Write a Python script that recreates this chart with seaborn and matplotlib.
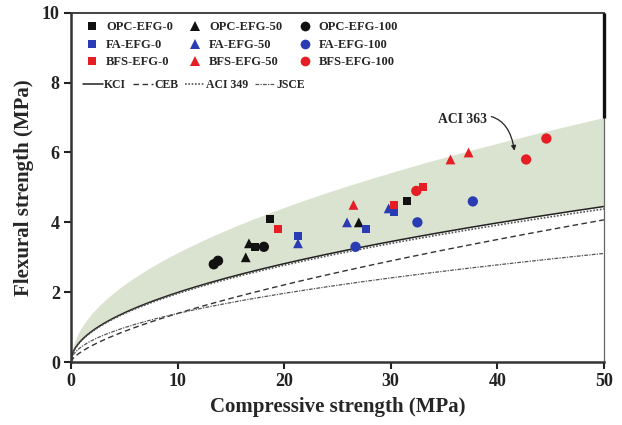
import numpy as np
import pandas as pd
import matplotlib
matplotlib.use("Agg")
import matplotlib.pyplot as plt
from matplotlib.lines import Line2D
import seaborn as sns

# Measured compressive / flexural strengths (MPa), three specimens per mix
series_names = ["OPC-EFG-0", "OPC-EFG-50", "OPC-EFG-100",
                "FA-EFG-0", "FA-EFG-50", "FA-EFG-100",
                "BFS-EFG-0", "BFS-EFG-50", "BFS-EFG-100"]
opc_efg0_fc = [17.3, 18.7, 31.5]
opc_efg0_fr = [3.3, 4.1, 4.6]
opc_efg50_fc = [16.4, 16.7, 27.0]
opc_efg50_fr = [3.0, 3.4, 4.0]
opc_efg100_fc = [13.4, 13.8, 18.1]
opc_efg100_fr = [2.8, 2.9, 3.3]
fa_efg0_fc = [21.3, 27.7, 30.3]
fa_efg0_fr = [3.6, 3.8, 4.3]
fa_efg50_fc = [21.3, 25.9, 29.8]
fa_efg50_fr = [3.4, 4.0, 4.4]
fa_efg100_fc = [26.7, 32.5, 37.7]
fa_efg100_fr = [3.3, 4.0, 4.6]
bfs_efg0_fc = [19.4, 30.3, 33.0]
bfs_efg0_fr = [3.8, 4.5, 5.0]
bfs_efg50_fc = [26.5, 35.6, 37.3]
bfs_efg50_fr = [4.5, 5.8, 6.0]
bfs_efg100_fc = [32.4, 42.7, 44.6]
bfs_efg100_fr = [4.9, 5.8, 6.4]

# Design-code prediction curves: fr = a * fc^n
code_names = ["KCI", "CEB", "ACI 349", "JSCE"]
code_coef = [0.63, 0.30, 0.62, 0.44]
code_expo = [0.5, 2 / 3, 0.5, 0.5]
aci363_coef = 0.99

fc_list = [opc_efg0_fc, opc_efg50_fc, opc_efg100_fc,
           fa_efg0_fc, fa_efg50_fc, fa_efg100_fc,
           bfs_efg0_fc, bfs_efg50_fc, bfs_efg100_fc]
fr_list = [opc_efg0_fr, opc_efg50_fr, opc_efg100_fr,
           fa_efg0_fr, fa_efg50_fr, fa_efg100_fr,
           bfs_efg0_fr, bfs_efg50_fr, bfs_efg100_fr]

rows = []
for name, fcs, frs in zip(series_names, fc_list, fr_list):
    for a, b in zip(fcs, frs):
        rows.append({"mix": name, "fc": a, "fr": b})
df = pd.DataFrame(rows)

sns.set_style("ticks")
plt.rcParams["font.family"] = ["Liberation Serif", "DejaVu Serif"]
plt.rcParams["font.weight"] = "bold"

black, blue, red = "#111111", "#2a3cb4", "#e41e24"
colors = {"OPC": black, "FA": blue, "BFS": red}
markers = {"0": "s", "50": "^", "100": "o"}
sizes = {"0": 32, "50": 50, "100": 55}

fig = plt.figure(figsize=(6.22, 4.25), dpi=100)
ax = fig.add_axes([0.114, 0.148, 0.857, 0.822])

fc = np.linspace(0, 50, 400)
kci = code_coef[0] * fc ** code_expo[0]
aci363 = aci363_coef * np.sqrt(fc)
ax.fill_between(fc, kci, aci363, color="#dae3cf", lw=0, zorder=1)

styles = ["-", (0, (4, 2.5)), (0, (1, 1)), (0, (3, 1, 1, 1))]
lcolors = ["#222222", "#333333", "#555555", "#555555"]
lwidths = [1.1, 1.0, 1.2, 0.9]
for a, n, ls, c, w in zip(code_coef, code_expo, styles, lcolors, lwidths):
    ax.plot(fc, a * fc ** n, ls=ls, color=c, lw=w, zorder=2)

handles = []
for name in series_names:
    binder, _, pct = name.split("-")
    sub = df[df["mix"] == name]
    sns.scatterplot(data=sub, x="fc", y="fr", ax=ax, color=colors[binder],
                    marker=markers[pct], s=sizes[pct], edgecolor="none",
                    linewidth=0, zorder=3, legend=False)
    handles.append(Line2D([], [], ls="none", marker=markers[pct], color=colors[binder],
                          markersize=5.5 if pct == "0" else 7, markeredgewidth=0))

legend_font = {"family": "Liberation Serif", "weight": "bold", "size": 9.0}
line_font = {"family": "Liberation Serif", "weight": "bold", "size": 8.5}

# column-major order for a 3-column legend
order = [0, 3, 6, 1, 4, 7, 2, 5, 8]
leg1 = ax.legend([handles[i] for i in order], [series_names[i] for i in order],
                 ncol=3, loc="upper left", bbox_to_anchor=(0.012, 1.0), frameon=False,
                 prop=legend_font, handlelength=1.0, handletextpad=0.6,
                 columnspacing=1.3, labelspacing=0.43, borderaxespad=0.1,
                 borderpad=0.6)
ax.add_artist(leg1)

line_handles = [Line2D([], [], ls=ls, color=c, lw=w)
                for ls, c, w in zip(styles, lcolors, lwidths)]
ax.legend(line_handles, code_names, ncol=4, loc="center left",
          bbox_to_anchor=(0.022, 0.794), frameon=False, prop=line_font,
          handlelength=1.7, handletextpad=0.12, columnspacing=0.55,
          borderaxespad=0.0, borderpad=0.0)

ax.annotate("ACI 363", xy=(41.6, 6.05), xytext=(39.0, 6.95),
            ha="right", va="center", fontsize=9.8, fontweight="bold",
            arrowprops=dict(arrowstyle="-|>", color="#222222", lw=0.9,
                            connectionstyle="arc3,rad=-0.6",
                            shrinkA=1, shrinkB=0, mutation_scale=7))

ax.set_xlim(0, 50)
ax.set_ylim(0, 10)
ax.set_xticks([0, 10, 20, 30, 40, 50])
ax.set_yticks([0, 2, 4, 6, 8, 10])
ax.tick_params(axis="both", direction="out", length=5, width=1.5, labelsize=13,
               colors="#222222", pad=3)
for lab in ax.get_xticklabels() + ax.get_yticklabels():
    lab.set_fontweight("bold")
ax.set_xlabel("Compressive strength (MPa)", fontsize=15, fontweight="bold", labelpad=5)
ax.set_ylabel("Flexural strength (MPa)", fontsize=15, fontweight="bold", labelpad=6)

for side in ["left", "bottom"]:
    ax.spines[side].set_linewidth(1.8)
    ax.spines[side].set_color("#333333")
ax.spines["top"].set_linewidth(1.3)
ax.spines["top"].set_color("#333333")
ax.spines["right"].set_linewidth(0.9)
ax.spines["right"].set_color("#666666")
# heavier frame edge above the ACI 363 band
ax.plot([fc[-1], fc[-1]], [aci363[-1], 10], color="#111111", lw=2.4,
        clip_on=False, zorder=4, solid_capstyle="butt")

fig.savefig("out.png", dpi=100)
